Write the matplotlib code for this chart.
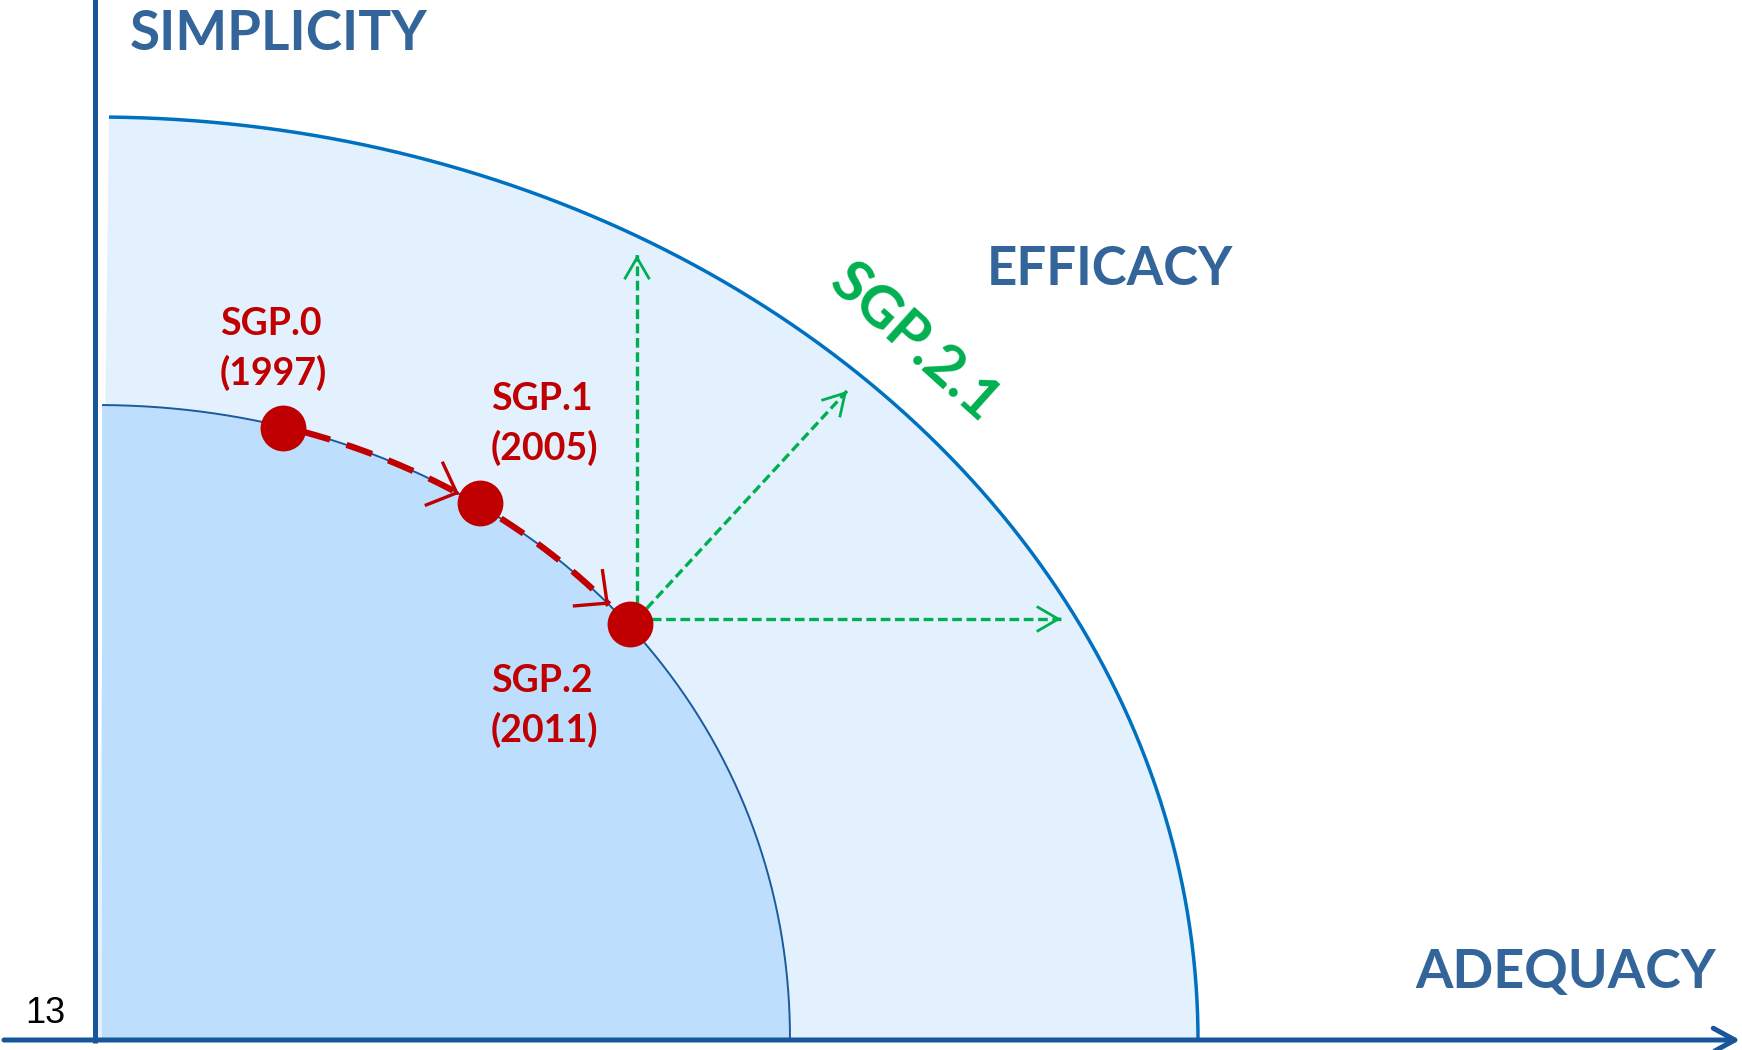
import numpy as np
import matplotlib
matplotlib.use("Agg")
import matplotlib.pyplot as plt
from matplotlib.patches import FancyArrowPatch, Polygon, ArrowStyle

plt.rcParams['lines.scale_dashes'] = False

# Stability & Growth Pact reforms placed on the adequacy / simplicity plane
reform_labels = ["SGP.0", "SGP.1", "SGP.2"]
reform_years = ["(1997)", "(2005)", "(2011)"]
reform_adequacy = [188, 385, 535]
reform_simplicity = [612, 537, 416]

# frontiers: reach along adequacy and simplicity
current_frontier = [695, 635]
efficacy_frontier = [1103, 923]

# directions open to the next reform, launched from SGP.2
next_reform_label = "SGP.2.1"
next_reform_origin = [542, 421]
next_reform_adequacy = [542, 752, 966]
next_reform_simplicity = [785, 649, 421]

axis_labels = ["SIMPLICITY", "ADEQUACY", "EFFICACY"]
page_number = "13"

# colours
AXIS_BLUE = "#17569B"
TITLE_BLUE = "#34659A"
OUTER_LINE = "#0070C0"
OUTER_FILL = "#E3F1FE"
INNER_LINE = "#1B5A9C"
INNER_FILL = "#BDDEFC"
RED = "#C00000"
GREEN = "#00B050"
FONT = "Lato"

W, H, DPI = 1742, 1050, 100
fig = plt.figure(figsize=(W / DPI, H / DPI), dpi=DPI)
ax = fig.add_axes([0, 0, 1, 1])
ax.set_xlim(-95, W - 95)
ax.set_ylim(-10, H - 10)
ax.axis("off")


def frontier_curve(a, b, n, x_start, x_end=None, num=400):
    """Points of the quarter curve |x/a|^n + |y/b|^n = 1 between two adequacy values."""
    t0 = np.arccos((x_start / a) ** (n / 2))
    t1 = 0.0 if x_end is None else np.arccos((x_end / a) ** (n / 2))
    t = np.linspace(t0, t1, num)
    return a * np.cos(t) ** (2 / n), b * np.sin(t) ** (2 / n)


def open_head(ax, tip, direction, color, lw, length, width, z):
    d = np.asarray(direction, float)
    d /= np.hypot(*d)
    tip = np.asarray(tip, float)
    ax.add_patch(FancyArrowPatch(tip - 0.5 * d, tip,
                                 arrowstyle=ArrowStyle("->", head_length=length, head_width=width),
                                 mutation_scale=1, lw=lw, color=color,
                                 shrinkA=0, shrinkB=0, zorder=z, capstyle="butt", joinstyle="miter"))


INNER_N, OUTER_N = 2.05, 2.0

# outer (efficacy) frontier
ox, oy = frontier_curve(efficacy_frontier[0], efficacy_frontier[1], OUTER_N, 14)
ax.add_patch(Polygon(np.column_stack([np.r_[2, ox, efficacy_frontier[0]], np.r_[0, oy, 0]]),
                     closed=True, fc=OUTER_FILL, ec="none", zorder=1))
ax.plot(ox, oy, color=OUTER_LINE, lw=2.5, solid_capstyle="butt", zorder=2)

# inner (current) frontier
ix, iy = frontier_curve(current_frontier[0], current_frontier[1], INNER_N, 7)
ax.add_patch(Polygon(np.column_stack([np.r_[7, ix, current_frontier[0]], np.r_[0, iy, 0]]),
                     closed=True, fc=INNER_FILL, ec="none", zorder=3))
ax.plot(ix, iy, color=INNER_LINE, lw=1.4, solid_capstyle="butt", zorder=4)

# axes
ax.plot([0, 0], [-3, H], color=AXIS_BLUE, lw=3.6, solid_capstyle="butt", zorder=6)
ax.add_patch(FancyArrowPatch((-91, 0), (W - 97, 0),
                             arrowstyle=ArrowStyle("->", head_length=15.5, head_width=8.5),
                             mutation_scale=1, lw=3.6, color=AXIS_BLUE,
                             shrinkA=0, shrinkB=0, zorder=6))

# red path of past reforms along the current frontier
gap_start, gap_end = 21, 21
for i in range(len(reform_adequacy) - 1):
    xs = reform_adequacy[i] + gap_start
    xe = reform_adequacy[i + 1] - gap_end
    px, py = frontier_curve(current_frontier[0], current_frontier[1], INNER_N, xs, xe, 200)
    ax.plot(px, py, color=RED, lw=4.5, ls=(0, (19.5, 12.5)), dash_capstyle="butt", zorder=7)
    chord = (px[-1] - px[0], py[-1] - py[0])
    open_head(ax, (px[-1], py[-1]), chord, RED, 2.4, 18, 17, 8)

# green directions for the next reform
for tx, ty in zip(next_reform_adequacy, next_reform_simplicity):
    ax.plot([next_reform_origin[0], tx], [next_reform_origin[1], ty], color=GREEN, lw=2.4,
            ls=(0, (7, 3.3)), dash_capstyle="butt", zorder=7)
    open_head(ax, (tx, ty), (tx - next_reform_origin[0], ty - next_reform_origin[1]),
              GREEN, 2.0, 15.5, 9, 8)

# reform points
ax.plot(reform_adequacy, reform_simplicity, "o", ms=33, color=RED, mec="none", zorder=9)

label_offsets = [(-63, 93), (11, 93), (-139, -68)]
line_gap = 50
for lab, yr, x, y, (dx, dy) in zip(reform_labels, reform_years, reform_adequacy,
                                   reform_simplicity, label_offsets):
    ax.text(x + dx, y + dy, lab, color=RED, fontsize=27, fontweight="bold", family=FONT,
            ha="left", va="baseline", zorder=10)
    ax.text(x + dx, y + dy - line_gap, yr, color=RED, fontsize=27, fontweight="bold", family=FONT,
            ha="left", va="baseline", zorder=10)

ax.text(819, 697, next_reform_label, color=GREEN, fontsize=42, fontweight="bold", family=FONT,
        rotation=-42, rotation_mode="anchor", ha="center", va="center", zorder=10)

# axis titles
ax.text(35, 990, axis_labels[0], color=TITLE_BLUE, fontsize=39.5, fontweight="bold", family=FONT,
        ha="left", va="baseline")
ax.text(1320, 52, axis_labels[1], color=TITLE_BLUE, fontsize=38.8, fontweight="bold", family=FONT,
        ha="left", va="baseline")
ax.text(892, 755, axis_labels[2], color=TITLE_BLUE, fontsize=38, fontweight="bold", family=FONT,
        ha="left", va="baseline")

ax.text(-70, 17, page_number, color="black", fontsize=26, family="Liberation Sans",
        ha="left", va="baseline")

fig.savefig("out.png", dpi=DPI, facecolor="white")
